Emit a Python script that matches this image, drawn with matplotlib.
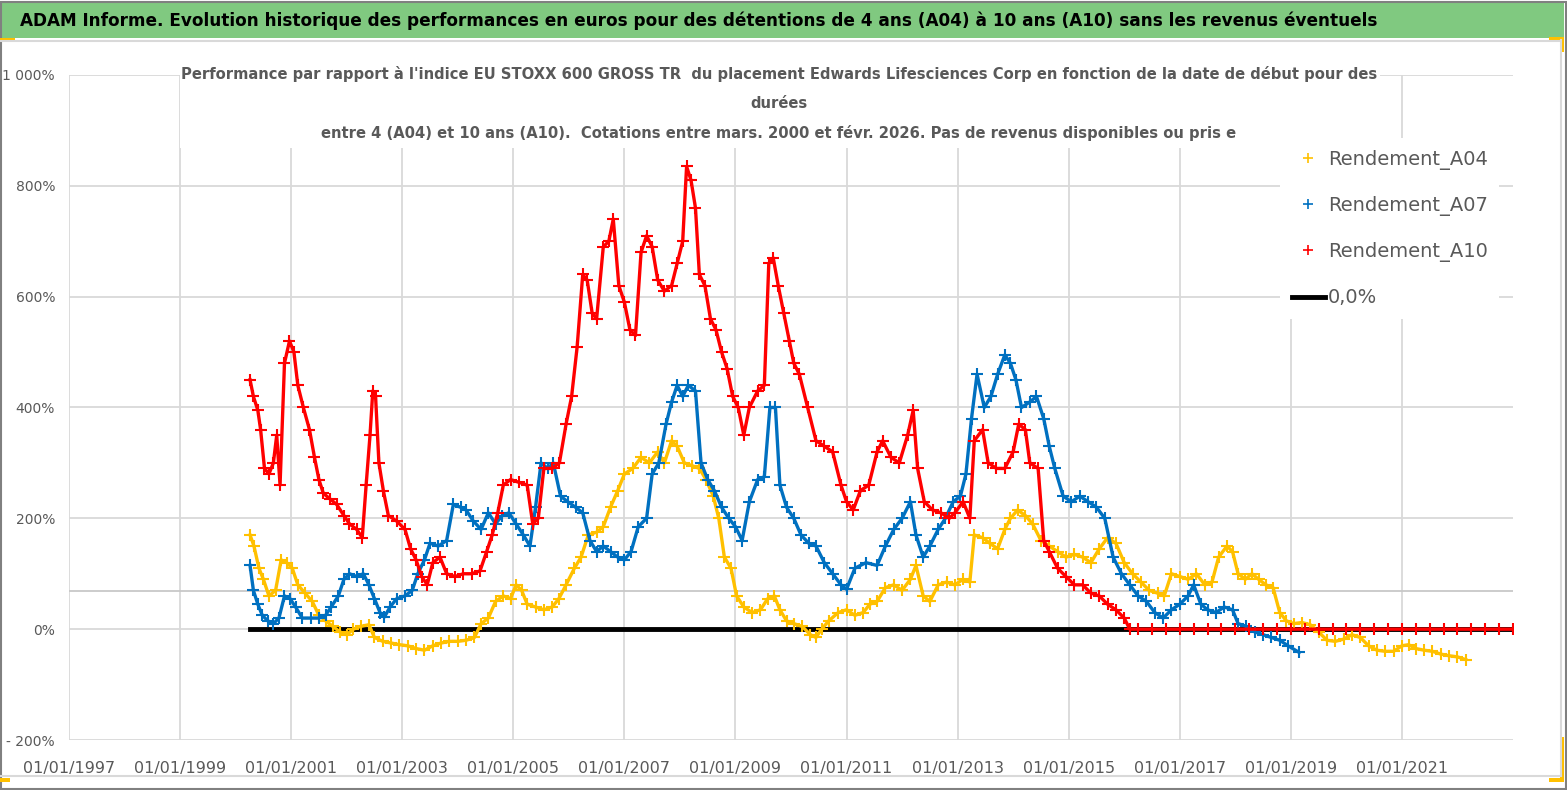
import numpy as np, matplotlib
matplotlib.use('Agg'); import matplotlib.pyplot as plt
from matplotlib.patches import Rectangle
from matplotlib.lines import Line2D

YEL="#FFC000"; BLU="#0070C0"; RED="#FF0000"; GRID="#D9D9D9"; TXT="#595959"; GREEN="#80C980"
FAM=['DejaVu Sans Condensed','DejaVu Sans']
plt.rcParams.update({'font.family':FAM})

TITLE="ADAM Informe. Evolution historique des performances en euros pour des détentions de 4 ans (A04) à 10 ans (A10) sans les revenus éventuels"
SUB=["Performance par rapport à l'indice EU STOXX 600 GROSS TR  du placement Edwards Lifesciences Corp en fonction de la date de début pour des",
     "durées",
     "entre 4 (A04) et 10 ans (A10).  Cotations entre mars. 2000 et févr. 2026. Pas de revenus disponibles ou pris e"]
labels=["Rendement_A04","Rendement_A07","Rendement_A10","0,0%"]
yticks=[-200,0,200,400,600,800,1000]
yticklabels=["- 200%","0%","200%","400%","600%","800%","1 000%"]
xticks=[1997,1999,2001,2003,2005,2007,2009,2011,2013,2015,2017,2019,2021]

# start date (decimal year) -> performance in %
a04_x=[2000.26,2000.33,2000.42,2000.50,2000.60,2000.72,2000.82,2000.92,2001.02,2001.12,2001.25,2001.38,2001.50,2001.62,2001.75,2001.88,
       2002.00,2002.12,2002.25,2002.40,2002.50,2002.65,2002.80,2002.95,2003.10,2003.25,2003.40,2003.55,2003.70,2003.85,2004.00,2004.15,
       2004.30,2004.42,2004.55,2004.68,2004.82,2004.95,2005.05,2005.15,2005.25,2005.40,2005.55,2005.70,2005.82,2005.95,2006.10,2006.22,
       2006.35,2006.50,2006.62,2006.75,2006.88,2007.00,2007.15,2007.30,2007.45,2007.60,2007.72,2007.85,2007.95,2008.08,2008.22,2008.35,
       2008.47,2008.60,2008.70,2008.80,2008.92,2009.02,2009.15,2009.30,2009.45,2009.58,2009.70,2009.80,2009.92,2010.05,2010.20,2010.35,
       2010.45,2010.55,2010.68,2010.85,2011.00,2011.15,2011.30,2011.42,2011.55,2011.70,2011.85,2012.00,2012.15,2012.25,2012.38,2012.50,
       2012.65,2012.80,2012.95,2013.10,2013.22,2013.30,2013.45,2013.58,2013.72,2013.85,2013.95,2014.08,2014.22,2014.35,2014.50,2014.65,
       2014.80,2014.95,2015.10,2015.25,2015.40,2015.55,2015.70,2015.85,2016.00,2016.15,2016.30,2016.45,2016.60,2016.72,2016.85,2017.00,
       2017.15,2017.30,2017.45,2017.58,2017.70,2017.85,2017.95,2018.05,2018.18,2018.30,2018.42,2018.55,2018.68,2018.80,2018.92,2019.05,
       2019.20,2019.35,2019.50,2019.65,2019.80,2019.95,2020.10,2020.25,2020.40,2020.55,2020.70,2020.85,2021.00,2021.12,2021.25,2021.40,
       2021.55,2021.70,2021.85,2022.00,2022.15]
a04_y=[170,150,110,90,60,70,125,120,110,80,65,50,25,15,5,-5,
       -10,0,5,8,-15,-22,-25,-28,-30,-35,-38,-30,-25,-22,-22,-20,
       -15,10,20,50,60,55,80,70,45,40,35,40,55,80,110,130,
       170,175,185,220,250,280,290,310,300,320,300,340,330,300,295,290,
       270,240,200,130,110,60,40,30,35,55,60,35,15,10,5,-10,
       -15,0,15,30,35,25,30,45,50,75,80,70,90,115,60,50,
       80,85,80,90,85,170,165,155,145,180,200,215,205,190,160,150,
       140,130,135,130,120,145,165,155,120,100,85,70,65,60,100,95,
       90,100,80,85,130,150,140,100,90,100,90,80,75,30,15,10,
       12,8,-5,-20,-22,-18,-10,-15,-30,-38,-40,-40,-30,-28,-35,-38,
       -40,-45,-48,-50,-55]

a07_x=[2000.26,2000.32,2000.40,2000.48,2000.58,2000.68,2000.78,2000.88,2000.98,2001.08,2001.20,2001.35,2001.50,2001.62,2001.72,2001.85,
       2001.95,2002.05,2002.18,2002.30,2002.40,2002.50,2002.60,2002.68,2002.78,2002.90,2003.05,2003.18,2003.28,2003.40,2003.50,2003.65,
       2003.80,2003.92,2004.05,2004.15,2004.28,2004.42,2004.55,2004.68,2004.80,2004.92,2005.05,2005.18,2005.30,2005.40,2005.50,2005.62,
       2005.72,2005.85,2005.98,2006.12,2006.25,2006.38,2006.50,2006.62,2006.75,2006.88,2007.00,2007.12,2007.25,2007.40,2007.50,2007.62,
       2007.75,2007.85,2007.95,2008.05,2008.15,2008.28,2008.38,2008.50,2008.62,2008.75,2008.88,2009.00,2009.12,2009.25,2009.40,2009.52,
       2009.62,2009.72,2009.80,2009.92,2010.05,2010.18,2010.32,2010.45,2010.60,2010.75,2010.90,2011.00,2011.15,2011.35,2011.55,2011.70,
       2011.85,2012.00,2012.15,2012.25,2012.38,2012.50,2012.65,2012.78,2012.92,2013.05,2013.15,2013.25,2013.35,2013.48,2013.60,2013.72,
       2013.85,2013.95,2014.05,2014.15,2014.30,2014.42,2014.55,2014.65,2014.75,2014.90,2015.05,2015.20,2015.35,2015.50,2015.65,2015.80,
       2015.95,2016.10,2016.25,2016.40,2016.55,2016.70,2016.85,2017.00,2017.15,2017.25,2017.38,2017.50,2017.65,2017.80,2017.95,2018.05,
       2018.20,2018.35,2018.50,2018.65,2018.80,2018.95,2019.15]
a07_y=[115,70,45,25,15,10,20,60,55,40,20,20,20,25,40,60,
       90,100,95,100,80,55,30,22,40,55,60,70,100,125,155,150,
       160,225,220,215,195,180,210,190,205,210,190,170,150,220,300,290,
       300,240,230,220,210,160,140,150,140,130,125,140,185,200,280,300,
       370,410,440,420,440,430,300,270,250,220,200,185,160,230,270,275,
       400,400,260,220,200,170,155,150,120,100,80,72,110,120,115,150,
       180,200,230,170,130,150,180,200,230,240,280,380,460,400,420,460,
       495,480,450,400,410,420,380,330,290,240,230,240,230,220,200,130,
       100,80,60,50,30,20,35,45,60,80,45,35,30,40,35,10,
       5,-5,-10,-15,-20,-30,-42]

a10_x=[2000.26,2000.32,2000.40,2000.45,2000.52,2000.60,2000.68,2000.74,2000.80,2000.88,2000.97,2001.05,2001.12,2001.22,2001.33,2001.42,
       2001.50,2001.58,2001.70,2001.82,2001.95,2002.05,2002.18,2002.28,2002.35,2002.42,2002.47,2002.52,2002.58,2002.66,2002.75,2002.90,
       2003.05,2003.15,2003.25,2003.35,2003.45,2003.55,2003.68,2003.80,2003.95,2004.10,2004.25,2004.40,2004.52,2004.62,2004.72,2004.82,
       2004.95,2005.10,2005.25,2005.35,2005.45,2005.55,2005.70,2005.83,2005.95,2006.05,2006.15,2006.25,2006.33,2006.42,2006.50,2006.62,
       2006.72,2006.80,2006.90,2007.00,2007.10,2007.20,2007.30,2007.40,2007.50,2007.60,2007.72,2007.85,2007.95,2008.05,2008.12,2008.20,
       2008.28,2008.35,2008.45,2008.55,2008.65,2008.75,2008.85,2008.95,2009.05,2009.15,2009.25,2009.40,2009.52,2009.60,2009.68,2009.77,
       2009.87,2009.97,2010.05,2010.15,2010.30,2010.45,2010.60,2010.75,2010.90,2011.00,2011.12,2011.25,2011.40,2011.55,2011.65,2011.80,
       2011.95,2012.10,2012.20,2012.28,2012.40,2012.55,2012.70,2012.85,2012.95,2013.10,2013.22,2013.30,2013.45,2013.55,2013.70,2013.85,
       2014.00,2014.10,2014.22,2014.30,2014.45,2014.55,2014.65,2014.80,2014.95,2015.10,2015.25,2015.40,2015.55,2015.70,2015.85,2016.00,
       2016.10,2016.25,2016.50,2016.75,2017.00,2017.25,2017.50,2017.75,2018.00,2018.25,2018.50,2018.75,2019.00,2019.25,2019.50,2019.75,
       2020.00,2020.25,2020.50,2020.75,2021.00,2021.25,2021.50,2021.75,2022.00,2022.25,2022.50,2022.75,2023.00]
a10_y=[450,420,395,360,290,280,300,350,260,480,520,500,440,400,360,310,
       270,245,235,225,205,190,180,165,260,350,430,420,300,250,205,195,
       180,145,125,95,80,120,130,100,95,100,100,105,140,170,210,260,
       270,265,260,190,200,290,290,300,370,420,510,640,630,570,560,690,
       700,740,620,590,540,530,680,710,690,630,610,620,660,700,835,810,
       760,640,620,560,540,500,470,420,400,350,400,430,440,660,670,620,
       570,520,480,460,400,340,330,320,260,230,215,250,260,320,340,310,
       300,350,395,290,230,215,210,200,210,230,200,340,360,300,290,290,
       320,370,360,300,290,160,140,110,95,80,80,65,60,45,35,20,
       0,0,0,0,0,0,0,0,0,0,0,0,0,0,0,0,
       0,0,0,0,0,0,0,0,0,0,0,0,0]
zero_x=[2000.26,2023.0]; zero_y=[0,0]

W,H=1567,790
fig=plt.figure(figsize=(W/100,H/100),dpi=100)
fx=lambda p:p/W; fy=lambda p:1-p/H
ax=fig.add_axes([fx(69),fy(740),fx(1513)-fx(69),fy(75)-fy(740)])
ax.set_xlim(1997,2023); ax.set_ylim(-200,1000)
ax.set_xticks(xticks); ax.set_xticklabels([f"01/01/{y}" for y in xticks])
ax.set_yticks(yticks); ax.set_yticklabels(yticklabels)
ax.tick_params(length=0,colors=TXT,labelsize=11.5)
ax.tick_params(axis='y',pad=10,labelsize=10)
ax.tick_params(axis='x',pad=15)
for s in ax.spines.values(): s.set_visible(False)
ax.set_axisbelow(True); ax.grid(True,color=GRID,lw=1.3)
ax.axhline(68,color="#C8C8C8",lw=1.3,zorder=0.6)

ax.plot(zero_x,zero_y,color='black',lw=3.5,zorder=2)
for xs,ys,c,z in [(a04_x,a04_y,YEL,3),(a07_x,a07_y,BLU,4),(a10_x,a10_y,RED,5)]:
    ax.plot(xs,ys,color=c,lw=2.4,zorder=z,marker='+',ms=9,mew=1.5)

# white box behind the chart title
ax.add_patch(Rectangle((fx(180),fy(148)),fx(1380)-fx(180),fy(62)-fy(148),transform=fig.transFigure,
                       facecolor='white',edgecolor='none',zorder=1.5))

hs=[Line2D([],[],ls='none',marker='+',ms=7,mew=1.2,color=c) for c in (YEL,BLU,RED)]+[Line2D([],[],color='black',lw=3.5)]
leg=fig.legend(hs,labels,loc='upper left',bbox_to_anchor=(fx(1280),fy(138)),frameon=True,fancybox=False,
               facecolor='white',edgecolor='none',framealpha=1,fontsize=14,labelcolor=TXT,
               handlelength=1.7,handletextpad=0.15,labelspacing=1.35,borderpad=0.6,borderaxespad=0)
leg.set_zorder(6)

# frame, green band, selection handles
fig.patches.append(Rectangle((0,fy(38)),fx(1564),fy(1)-fy(38),transform=fig.transFigure,facecolor=GREEN,edgecolor='none',zorder=0))
fig.add_artist(Line2D([0,fx(1561)],[fy(40.5)]*2,color=GRID,lw=1.5))
fig.add_artist(Line2D([fx(1561)]*2,[fy(40),fy(776)],color=GRID,lw=1.5))
fig.add_artist(Line2D([0,fx(1561)],[fy(776)]*2,color=GRID,lw=1.5))
fig.add_artist(Rectangle((0.0005,0.001),fx(1565),0.997,transform=fig.transFigure,fill=False,edgecolor="#808080",lw=1.5))
for (x0,y0,w,h) in [(0,38,15,3),(1549,37,15,3),(1561,37,3,15),(1560,737,4,45),(1549,778,15,4),(0,778,10,4)]:
    fig.add_artist(Rectangle((fx(x0),fy(y0+h)),w/W,h/H,transform=fig.transFigure,facecolor=YEL,edgecolor='none'))

t=fig.text(fx(20),fy(21),TITLE,fontsize=15,fontweight='bold',color='black',va='center',ha='left')
subs=[fig.text(fx(779),fy(yy),s,fontsize=13,fontweight='bold',color=TXT,ha='center',va='center',zorder=7)
      for s,yy in zip(SUB,[74,103,133])]
r=fig.canvas.get_renderer()
def fit(txt,wpx):
    txt.set_fontsize(txt.get_fontsize()*wpx/txt.get_window_extent(r).width)
fit(t,1358); fit(subs[0],1192)
for s in subs[1:]: s.set_fontsize(subs[0].get_fontsize())

fig.savefig("out.png",dpi=100)
